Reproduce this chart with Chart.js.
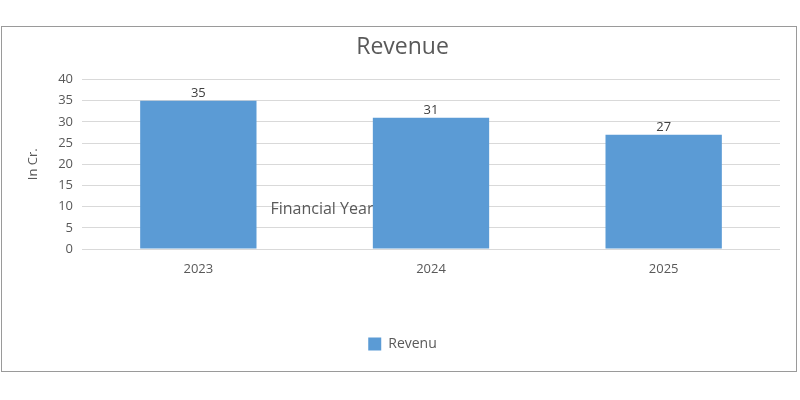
<!DOCTYPE html>
<html>
<head>
<meta charset="utf-8">
<script src="https://cdn.jsdelivr.net/npm/chart.js@4"></script>
<style>
  body { margin: 0; background: #fff; }
  #box { position: absolute; left: 1px; top: 26px; width: 794px; height: 344px; border: 1px solid #9a9a9a; }
  #wrap { width: 794px; height: 344px; }
</style>
</head>
<body>
<div id="box"><div id="wrap"><canvas id="chart"></canvas></div></div>
<script>
const years = ['2023', '2024', '2025'];
const revenue = [35, 31, 27];
const yTicks = [0, 5, 10, 15, 20, 25, 30, 35, 40];

const font = '"Open Sans", "DejaVu Sans", sans-serif';
Chart.defaults.font.family = font;
Chart.defaults.color = '#595959';

// values above each bar
const valueLabels = {
  id: 'valueLabels',
  afterDatasetsDraw(chart) {
    const ctx = chart.ctx;
    ctx.save();
    ctx.font = '13px ' + font;
    ctx.fillStyle = '#404040';
    ctx.textAlign = 'center';
    ctx.textBaseline = 'bottom';
    chart.getDatasetMeta(0).data.forEach((bar, i) => {
      ctx.fillText(revenue[i], bar.x, bar.y - 1);
    });
    ctx.restore();
  }
};

// the misplaced axis title, drawn behind the bars
const strayTitle = {
  id: 'strayTitle',
  beforeDatasetsDraw(chart) {
    const ctx = chart.ctx;
    const x = chart.scales.x.getPixelForValue(0.31);
    const y = chart.scales.y.getPixelForValue(9.3);
    ctx.save();
    ctx.font = '16px ' + font;
    ctx.fillStyle = '#595959';
    ctx.textAlign = 'left';
    ctx.textBaseline = 'middle';
    ctx.fillText('Financial Year', x, y);
    ctx.restore();
  }
};

new Chart(document.getElementById('chart'), {
  type: 'bar',
  data: {
    labels: years,
    datasets: [{
      label: 'Revenu',
      data: revenue,
      backgroundColor: '#5b9bd5',
      categoryPercentage: 1,
      barPercentage: 0.5
    }]
  },
  options: {
    responsive: true,
    maintainAspectRatio: false,
    animation: false,
    layout: { padding: { left: 23, right: 16, top: 0, bottom: 10 } },
    plugins: {
      title: {
        display: true,
        text: 'Revenue',
        color: '#595959',
        font: { size: 23, weight: 'normal' },
        padding: { top: 7, bottom: 18 }
      },
      legend: {
        position: 'bottom',
        labels: { boxWidth: 13, boxHeight: 13, color: '#595959', font: { size: 14 } }
      },
      tooltip: { enabled: false }
    },
    scales: {
      x: {
        grid: { display: false, drawTicks: false },
        border: { display: false },
        ticks: { color: '#595959', font: { size: 13 }, padding: 12 },
        afterFit(scale) { scale.height = 78; }
      },
      y: {
        min: 0,
        max: 40,
        afterBuildTicks(scale) { scale.ticks = yTicks.map(v => ({ value: v })); },
        grid: { color: '#d9d9d9', drawTicks: false },
        border: { display: false },
        ticks: { color: '#595959', font: { size: 13 }, padding: 9 },
        title: { display: true, text: 'In Cr.', color: '#595959', font: { size: 13 }, padding: 0 },
        afterFit(scale) { scale.width = 57; }
      }
    }
  },
  plugins: [strayTitle, valueLabels]
});
</script>
</body>
</html>
